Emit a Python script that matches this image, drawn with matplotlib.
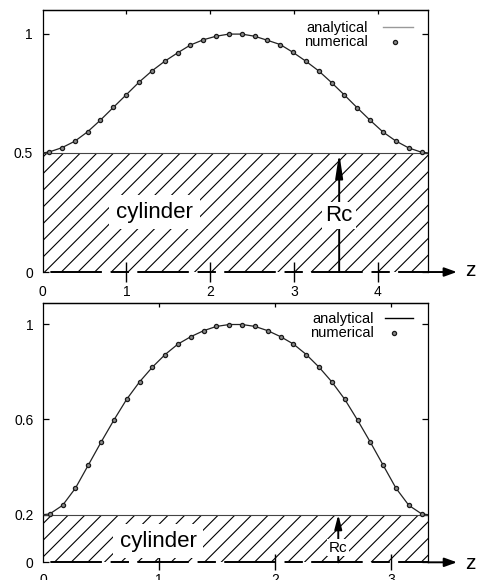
import matplotlib
matplotlib.use("Agg")
import matplotlib.pyplot as plt
from matplotlib.lines import Line2D

plt.rcParams["font.family"] = ["Liberation Sans", "DejaVu Sans"]
plt.rcParams["hatch.linewidth"] = 0.8
plt.rcParams["hatch.color"] = "black"
plt.rcParams["lines.scale_dashes"] = False

# ---- upper panel: period length L, cylinder radius Rc = 0.5 ----
L_top = 4.6
rc_top = 0.5
z_top = [0.077, 0.230, 0.383, 0.537, 0.690, 0.843, 0.997, 1.150, 1.303, 1.457,
         1.610, 1.763, 1.917, 2.070, 2.223, 2.377, 2.530, 2.683, 2.837, 2.990,
         3.143, 3.297, 3.450, 3.603, 3.757, 3.910, 4.063, 4.217, 4.370, 4.523]
r_top_num = [0.504, 0.522, 0.549, 0.589, 0.638, 0.691, 0.744, 0.797, 0.844, 0.885,
             0.920, 0.953, 0.975, 0.990, 0.999, 0.999, 0.990, 0.973, 0.955, 0.922,
             0.885, 0.844, 0.795, 0.743, 0.689, 0.637, 0.588, 0.550, 0.521, 0.503]
z_top_ana = [0.0] + z_top + [L_top]
r_top_ana = [0.5] + r_top_num + [0.5]
xticks_top = [0, 1, 2, 3, 4]
yticks_top = [0, 0.5, 1]
yticklabels_top = ["0", "0.5", "1"]

# ---- lower panel: period length L, cylinder radius Rc = 0.2 ----
L_bot = 3.32
rc_bot = 0.2
z_bot = [0.055, 0.166, 0.277, 0.387, 0.498, 0.609, 0.719, 0.830, 0.941, 1.051,
         1.162, 1.273, 1.383, 1.494, 1.605, 1.715, 1.826, 1.937, 2.047, 2.158,
         2.269, 2.379, 2.490, 2.601, 2.711, 2.822, 2.933, 3.043, 3.154, 3.265]
r_bot_num = [0.203, 0.239, 0.311, 0.407, 0.504, 0.597, 0.684, 0.757, 0.819, 0.872,
             0.916, 0.947, 0.972, 0.990, 0.998, 0.998, 0.990, 0.972, 0.947, 0.916,
             0.872, 0.819, 0.757, 0.684, 0.597, 0.504, 0.407, 0.311, 0.239, 0.203]
z_bot_ana = [0.0] + z_bot + [L_bot]
r_bot_ana = [0.2] + r_bot_num + [0.2]
xticks_bot = [0, 1, 2, 3]
yticks_bot = [0, 0.2, 0.6, 1]
yticklabels_bot = ["0", "0.2", "0.6", "1"]

MARKER = dict(marker="o", ms=3.0, mfc="#8a8a8a", mec="#1a1a1a", mew=0.9)


def draw_panel(ax, L, rc, ymax, z_ana, r_ana, z_num, r_num, xticks, yticks, ylabels,
               cyl_xy, rc_x, rc_y, rc_fs, rc_pad, rc_head, legend_x, legend_ys,
               legend_line, legend_marker_x, legend_line_color, xtick_len, z_off):
    ax.set_xlim(0, L)
    ax.set_ylim(0, ymax)

    # hatched cylinder region and its surface line
    ax.fill_between([0, L], 0, rc, facecolor="none", edgecolor="black",
                    hatch="//", linewidth=0, zorder=1)
    ax.plot([0, L], [rc, rc], color="#444444", lw=0.8, zorder=2)

    # analytical curve and numerical points
    ax.plot(z_ana, r_ana, color="#222222", lw=0.9, zorder=3)
    ax.plot(z_num, r_num, ls="none", zorder=4, **MARKER)

    # labels inside the cylinder
    ax.text(cyl_xy[0], cyl_xy[1], "cylinder", fontsize=16, ha="center",
            va="baseline", zorder=6,
            bbox=dict(boxstyle="square,pad=0.3", fc="white", ec="none"))
    ax.annotate("", xy=(rc_x, rc), xytext=(rc_x, 0),
                arrowprops=dict(arrowstyle=f"-|>,head_length={rc_head},head_width=0.22",
                                color="black", lw=1.4, shrinkA=0, shrinkB=0,
                                mutation_scale=10), zorder=5)
    ax.text(rc_x, rc_y, "Rc", fontsize=rc_fs, ha="center", va="baseline", zorder=6,
            bbox=dict(boxstyle=f"square,pad={rc_pad}", fc="white", ec="none"))

    # dashed z axis with arrow
    ax.plot([0, L], [0, 0], color="black", lw=1.4, clip_on=False, zorder=7,
            ls=(57.3, (37.1, 6.3, 13.2, 6.0)))
    ax.annotate("", xy=(1.075, 0), xytext=(1.0, 0),
                xycoords=("axes fraction", "data"), textcoords=("axes fraction", "data"),
                arrowprops=dict(arrowstyle="-|>,head_length=0.75,head_width=0.27",
                                color="black", lw=1.4, shrinkA=0, shrinkB=0,
                                mutation_scale=10),
                annotation_clip=False)
    ax.annotate("z", xy=(1.11, 0), xycoords=("axes fraction", "data"),
                xytext=(0, z_off), textcoords="offset points",
                fontsize=15, ha="center", va="baseline", annotation_clip=False)

    # frame
    ax.spines["bottom"].set_visible(False)
    for s in ("left", "top", "right"):
        ax.spines[s].set_linewidth(0.9)

    ax.set_xticks(xticks)
    ax.set_xticklabels([str(t) for t in xticks])
    ax.tick_params(axis="x", direction="inout", length=xtick_len, width=1.0,
                   pad=2, labelsize=10, bottom=True, top=False)
    ax.xaxis.get_major_ticks()[0].tick1line.set_visible(False)
    top = ax.secondary_xaxis("top")
    top.set_xticks(xticks[1:])
    top.tick_params(direction="in", length=3, width=0.9, labeltop=False)
    top.spines["top"].set_linewidth(0.9)

    ax.set_yticks(yticks)
    ax.set_yticklabels(ylabels)
    ax.tick_params(axis="y", direction="in", length=4, width=0.9, pad=7,
                   labelsize=10, left=True, right=True)

    # key
    ax.text(legend_x, legend_ys[0], "analytical", transform=ax.transAxes,
            ha="right", va="center", fontsize=10.5)
    ax.text(legend_x, legend_ys[1], "numerical", transform=ax.transAxes,
            ha="right", va="center", fontsize=10.5)
    ax.add_line(Line2D(legend_line, [legend_ys[0] + 0.004] * 2, transform=ax.transAxes,
                       color=legend_line_color, lw=1.0))
    ax.add_line(Line2D([legend_marker_x], [legend_ys[1]], transform=ax.transAxes,
                       ls="none", **MARKER))


fig = plt.figure(figsize=(4.78, 5.8), dpi=100)
ax1 = fig.add_axes([0.0893, 0.531, 0.806, 0.4517])
ax2 = fig.add_axes([0.0906, 0.0305, 0.805, 0.4478])

draw_panel(ax1, L_top, rc_top, 1.1, z_top_ana, r_top_ana, z_top, r_top_num,
           xticks_top, yticks_top, yticklabels_top,
           cyl_xy=(1.335, 0.228), rc_x=3.54, rc_y=0.214, rc_fs=16, rc_pad=0.15,
           rc_head=1.45, legend_x=0.844, legend_ys=(0.931, 0.878),
           legend_line=(0.883, 0.961), legend_marker_x=0.914,
           legend_line_color="#999999", xtick_len=14, z_off=-3.2)

draw_panel(ax2, L_bot, rc_bot, 1.09, z_bot_ana, r_bot_ana, z_bot, r_bot_num,
           xticks_bot, yticks_bot, yticklabels_bot,
           cyl_xy=(0.99, 0.0655), rc_x=2.545, rc_y=0.0445, rc_fs=11, rc_pad=0.1,
           rc_head=0.85, legend_x=0.86, legend_ys=(0.937, 0.883),
           legend_line=(0.888, 0.96), legend_marker_x=0.912,
           legend_line_color="black", xtick_len=12, z_off=-4.8)

fig.savefig("out.png", dpi=100)
